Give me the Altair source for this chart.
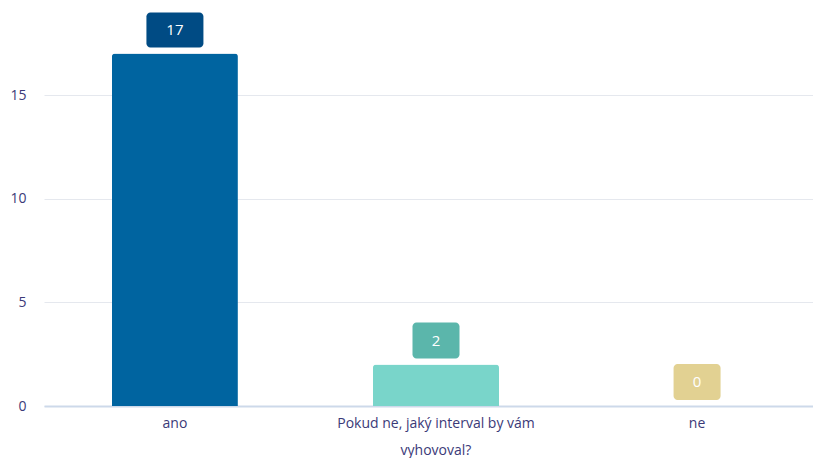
import altair as alt
import pandas as pd

categories = ["ano", "Pokud ne, jaký interval by vám vyhovoval?", "ne"]
values = [17, 2, 0]
labels = ["17", "2", "0"]
bar_colors = ["#0064a0", "#79d5ca", "#f0e0a0"]
box_colors = ["#004b84", "#5bb6ab", "#e2d192"]
y_ticks = [0, 5, 10, 15]

df = pd.DataFrame({
    "cat": categories,
    "value": values,
    "label": labels,
    "bar_color": bar_colors,
    "box_color": box_colors,
})
df["wide"] = df["label"].str.len() > 1

FONT = "Open Sans"
TXT = "#3b3a78"

x = alt.X(
    "cat:N",
    sort=categories,
    title=None,
    scale=alt.Scale(paddingInner=0.517, paddingOuter=0.26, range=[0, 784]),
    axis=alt.Axis(
        labelAngle=0,
        labelFont=FONT,
        labelFontSize=14,
        labelColor=TXT,
        labelPadding=10,
        labelLineHeight=27,
        labelLimit=0,
        labelExpr="datum.label == 'Pokud ne, jaký interval by vám vyhovoval?' ? ['Pokud ne, jaký interval by vám', 'vyhovoval?'] : datum.label",
        ticks=False,
        domainColor="#cdd9ea",
        domainWidth=2,
        grid=False,
    ),
)

y = alt.Y(
    "value:Q",
    title=None,
    scale=alt.Scale(domain=[0, 19.2], nice=False),
    axis=alt.Axis(
        values=y_ticks,
        labelFont=FONT,
        labelFontSize=14,
        labelColor=TXT,
        labelPadding=18,
        ticks=False,
        domain=False,
        gridColor="#e5e8ee",
        gridWidth=1,
    ),
)

bars = alt.Chart(df).mark_bar(
    cornerRadiusTopLeft=3, cornerRadiusTopRight=3, width=126
).encode(x=x, y=y, color=alt.Color("bar_color:N", scale=None))

box_wide = alt.Chart(df).transform_filter("datum.wide").mark_bar(
    width=57, cornerRadius=4, yOffset=-41, y2Offset=-6
).encode(x=x, y=y, y2="value:Q", color=alt.Color("box_color:N", scale=None))

box_narrow = alt.Chart(df).transform_filter("!datum.wide").mark_bar(
    width=47, cornerRadius=4, yOffset=-42, y2Offset=-6
).encode(x=x, y=y, y2="value:Q", color=alt.Color("box_color:N", scale=None))

texts = alt.Chart(df).mark_text(
    color="white", font=FONT, fontSize=15, baseline="middle", align="center", dy=-24
).encode(x=x, y=y, text="label:N")

chart = alt.layer(bars, box_wide, box_narrow, texts).properties(
    width=769,
    height=398,
    autosize=alt.AutoSizeParams(type="none"),
    padding={"left": 36, "top": 0, "right": 0, "bottom": 52},
).configure_view(stroke=None)

chart.save("out.html", embed_options={"renderer": "svg", "actions": False})
